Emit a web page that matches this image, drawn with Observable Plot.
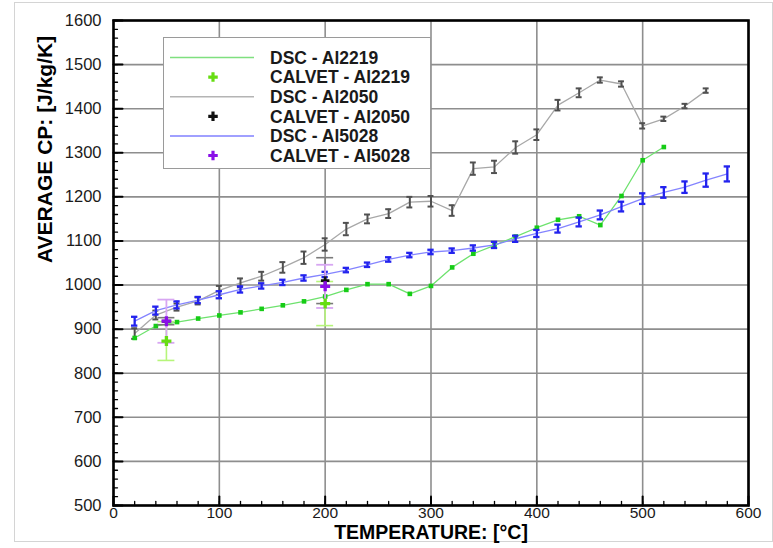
<!DOCTYPE html>
<html><head><meta charset="utf-8">
<script src="https://cdn.jsdelivr.net/npm/d3@7"></script>
<script src="https://cdn.jsdelivr.net/npm/@observablehq/plot@0.6"></script>
<style>
body{margin:0;background:#fff;font-family:"Liberation Sans",Arial,sans-serif;}
#wrap{position:relative;width:773px;height:548px;overflow:hidden;background:#fff;}
#border{position:absolute;left:14px;top:2px;width:759px;height:540px;border:1px solid #d4d4d4;box-sizing:border-box;}
#chart{position:absolute;left:0;top:0;}
#legend{position:absolute;left:163px;top:37px;width:268px;height:132px;background:#fff;border:1px solid #9a9a9a;box-sizing:border-box;}
</style></head><body>
<div id="wrap"><div id="border"></div><div id="chart"></div><div id="legend"></div></div>
<script>
// ---- data ----
const tempAl2050 = [20,40,60,80,100,120,140,160,180,200,220,240,260,280,300,320,340,360,380,400,420,440,460,480,500,520,540,560];
const cpAl2050   = [890,932,950,964,988,1005,1020,1040,1062,1092,1127,1150,1162,1188,1190,1169,1264,1268,1312,1341,1408,1436,1465,1456,1361,1377,1406,1441];
const errAl2050  = [12,10,8,8,10,10,10,12,14,14,14,10,10,12,12,12,14,14,14,12,12,10,6,6,6,5,5,5];

const tempAl5028 = [20,40,60,80,100,120,140,160,180,200,220,240,260,280,300,320,340,360,380,400,420,440,460,480,500,520,540,560,580];
const cpAl5028   = [918,942,955,966,978,990,998,1006,1016,1024,1034,1046,1058,1068,1075,1078,1084,1091,1105,1117,1128,1143,1159,1178,1196,1210,1222,1238,1252];
const errAl5028  = [10,9,8,7,8,7,6,6,6,6,5,5,5,5,5,5,6,7,7,8,9,10,10,11,12,12,13,15,17];

const tempAl2219 = [20,40,60,80,100,120,140,160,180,200,220,240,260,280,300,320,340,360,380,400,420,440,460,480,500,520];
const cpAl2219   = [880,907,916,924,931,938,946,954,963,974,989,1002,1002,980,998,1040,1071,1090,1110,1130,1148,1156,1136,1202,1283,1313];

const calvetTemp     = [50,200];
const calvetAl2219   = [873,958];
const calvetErr2219  = [44,50];
const calvetAl2050   = [918,1010];
const calvetErr2050  = [8,52];
const calvetAl5028   = [918,997];
const calvetErr5028  = [49,49];

const xMajor = [0,100,200,300,400,500,600];
const yMajor = [500,600,700,800,900,1000,1100,1200,1300,1400,1500,1600];
const xMinor = d3.range(0,601,20);
const yMinor = d3.range(500,1601,20);

const legendItems = [
  {label:"DSC - Al2219", kind:"line", color:"#7fe07f"},
  {label:"CALVET - Al2219", kind:"plus", color:"#66dd11"},
  {label:"DSC - Al2050", kind:"line", color:"#b4b4b4"},
  {label:"CALVET  - Al2050", kind:"plus", color:"#111111"},
  {label:"DSC - Al5028", kind:"line", color:"#8080ff"},
  {label:"CALVET - Al5028", kind:"plus", color:"#8a10e8"}
];

// ---- tables ----
const dsc2050 = tempAl2050.map((t,i)=>({x:t,y:cpAl2050[i],e:errAl2050[i]}));
const dsc5028 = tempAl5028.map((t,i)=>({x:t,y:cpAl5028[i],e:errAl5028[i]}));
const dsc2219 = tempAl2219.map((t,i)=>({x:t,y:cpAl2219[i]}));
const cal2219 = calvetTemp.map((t,i)=>({x:t,y:calvetAl2219[i],e:calvetErr2219[i]}));
const cal2050 = calvetTemp.map((t,i)=>({x:t,y:calvetAl2050[i],e:calvetErr2050[i]}));
const cal5028 = calvetTemp.map((t,i)=>({x:t,y:calvetAl5028[i],e:calvetErr5028[i]}));

const tickShape = {draw(ctx, l){ ctx.moveTo(0,0); ctx.lineTo(0,-l); }};

function errorBars(data, color, width, cap){
  return [
    Plot.ruleX(data, {x:"x", y1:d=>d.y-d.e, y2:d=>d.y+d.e, stroke:color, strokeWidth:width}),
    Plot.ruleY(data, {y:d=>d.y-d.e, x1:d=>d.x-cap, x2:d=>d.x+cap, stroke:color, strokeWidth:width}),
    Plot.ruleY(data, {y:d=>d.y+d.e, x1:d=>d.x-cap, x2:d=>d.x+cap, stroke:color, strokeWidth:width})
  ];
}

const chart = Plot.plot({
  width:773, height:548,
  marginLeft:113, marginRight:25, marginTop:20, marginBottom:43,
  style:{fontFamily:"'Liberation Sans', Arial, sans-serif", color:"#1a1a1a", background:"transparent", overflow:"visible"},
  x:{domain:[0,600]},
  y:{domain:[500,1600]},
  marks:[
    Plot.gridX(xMajor, {stroke:"#8e8e8e", strokeOpacity:1, strokeWidth:1.6}),
    Plot.gridY(yMajor, {stroke:"#8e8e8e", strokeOpacity:1, strokeWidth:1.6}),
    // DSC Al2050
    Plot.line(dsc2050, {x:"x", y:"y", stroke:"#a8a8a8", strokeWidth:1.3}),
    ...errorBars(dsc2050, "#505050", 2, 2.8),
    // DSC Al2219
    Plot.line(dsc2219, {x:"x", y:"y", stroke:"#6ee26e", strokeWidth:1.3}),
    Plot.dot(dsc2219, {x:"x", y:"y", symbol:"square", r:2.6, fill:"#16cc16", stroke:"none"}),
    // DSC Al5028
    Plot.line(dsc5028, {x:"x", y:"y", stroke:"#8484ff", strokeWidth:1.3}),
    ...errorBars(dsc5028, "#2323ee", 2.3, 3),
    // CALVET
    ...errorBars(cal2219, "#b6f57a", 1.6, 8),
    ...errorBars(cal2050, "#7a7a7a", 1.6, 8),
    ...errorBars(cal5028, "#d7a6f2", 1.8, 8),
    Plot.dot(cal2050, {x:"x", y:"y", symbol:"cross", r:3.6, fill:"#111", stroke:"none"}),
    Plot.dot(cal2219, {x:"x", y:"y", symbol:"cross", r:4.2, fill:"#66dd11", stroke:"none"}),
    Plot.dot(cal5028, {x:"x", y:"y", symbol:"cross", r:4.2, fill:"#8a10e8", stroke:"none"}),
    // frame and ticks
    Plot.frame({stroke:"#000", strokeWidth:2.6}),
    Plot.vector(yMinor, {y:d=>d, frameAnchor:"left", length:4, rotate:90, anchor:"start", shape:tickShape, stroke:"#000", strokeWidth:1.3}),
    Plot.vector(yMajor, {y:d=>d, frameAnchor:"left", length:9, rotate:90, anchor:"start", shape:tickShape, stroke:"#000", strokeWidth:2}),
    Plot.vector(xMinor, {x:d=>d, frameAnchor:"bottom", length:4, rotate:0, anchor:"start", shape:tickShape, stroke:"#000", strokeWidth:1.3}),
    Plot.vector(xMajor, {x:d=>d, frameAnchor:"bottom", length:9, rotate:0, anchor:"start", shape:tickShape, stroke:"#000", strokeWidth:2}),
    Plot.axisY(yMajor, {tickSize:0, tickPadding:12, label:null, fontSize:16.5, tickFormat:d3.format("d")}),
    Plot.axisX(xMajor, {tickSize:0, tickPadding:1, label:null, fontSize:15.5, tickFormat:d3.format("d")}),
    Plot.text(["AVERAGE CP: [J/kg/K]"], {frameAnchor:"left", dx:-68, rotate:-90, fontWeight:"bold", fontSize:21, fill:"#000"}),
    Plot.text(["TEMPERATURE: [°C]"], {frameAnchor:"bottom", lineAnchor:"middle", dy:27, fontWeight:"bold", fontSize:19.5, fill:"#000"})
  ]
});
document.getElementById("chart").appendChild(chart);

// ---- legend ----
const lg = d3.select("#legend").append("svg").attr("width",266).attr("height",130)
  .style("font-family","'Liberation Sans', Arial, sans-serif");
legendItems.forEach((it,i)=>{
  const y = 19.5 + i*19.6;
  if(it.kind==="line"){
    lg.append("line").attr("x1",6).attr("x2",90).attr("y1",y).attr("y2",y).attr("stroke",it.color).attr("stroke-width",1.5);
  } else {
    lg.append("path").attr("transform",`translate(49,${y})`).attr("d", d3.symbol(d3.symbolCross, 50)()).attr("fill",it.color);
  }
  lg.append("text").attr("x",106).attr("y",y).attr("dy","0.36em").attr("font-size",17.5).attr("font-weight","bold").attr("fill","#1a1a1a").text(it.label);
});
</script>
</body></html>
